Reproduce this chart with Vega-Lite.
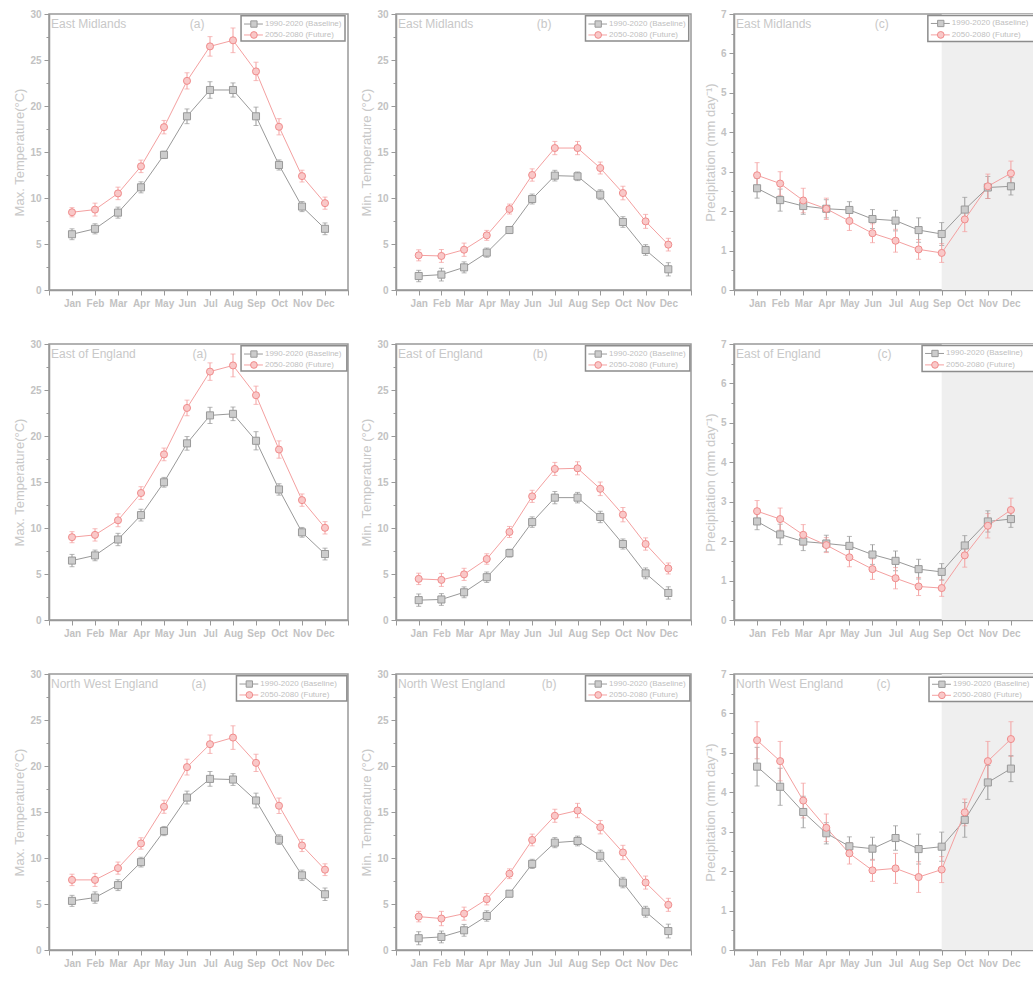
{
"$schema": "https://vega.github.io/schema/vega-lite/v6.json",
"padding": {"left": 13, "top": 8, "right": 0, "bottom": 0},
"datasets": {
"d": [
{"r":"EM","v":"max","p":"Baseline","m":1,"y":6.06,"e":0.59},{"r":"EM","v":"max","p":"Baseline","m":2,"y":6.65,"e":0.55},{"r":"EM","v":"max","p":"Baseline","m":3,"y":8.41,"e":0.6},{"r":"EM","v":"max","p":"Baseline","m":4,"y":11.16,"e":0.6},{"r":"EM","v":"max","p":"Baseline","m":5,"y":14.69,"e":0.4},{"r":"EM","v":"max","p":"Baseline","m":6,"y":18.88,"e":0.8},{"r":"EM","v":"max","p":"Baseline","m":7,"y":21.74,"e":0.9},{"r":"EM","v":"max","p":"Baseline","m":8,"y":21.74,"e":0.77},{"r":"EM","v":"max","p":"Baseline","m":9,"y":18.88,"e":1.0},{"r":"EM","v":"max","p":"Baseline","m":10,"y":13.59,"e":0.55},{"r":"EM","v":"max","p":"Baseline","m":11,"y":9.07,"e":0.55},{"r":"EM","v":"max","p":"Baseline","m":12,"y":6.65,"e":0.64},
{"r":"EM","v":"max","p":"Future","m":1,"y":8.45,"e":0.5},{"r":"EM","v":"max","p":"Future","m":2,"y":8.74,"e":0.7},{"r":"EM","v":"max","p":"Future","m":3,"y":10.5,"e":0.68},{"r":"EM","v":"max","p":"Future","m":4,"y":13.44,"e":0.68},{"r":"EM","v":"max","p":"Future","m":5,"y":17.7,"e":0.73},{"r":"EM","v":"max","p":"Future","m":6,"y":22.73,"e":0.88},{"r":"EM","v":"max","p":"Future","m":7,"y":26.48,"e":1.06},{"r":"EM","v":"max","p":"Future","m":8,"y":27.14,"e":1.34},{"r":"EM","v":"max","p":"Future","m":9,"y":23.76,"e":1.0},{"r":"EM","v":"max","p":"Future","m":10,"y":17.74,"e":0.88},{"r":"EM","v":"max","p":"Future","m":11,"y":12.38,"e":0.64},{"r":"EM","v":"max","p":"Future","m":12,"y":9.44,"e":0.66},
{"r":"EM","v":"min","p":"Baseline","m":1,"y":1.52,"e":0.62},{"r":"EM","v":"min","p":"Baseline","m":2,"y":1.67,"e":0.69},{"r":"EM","v":"min","p":"Baseline","m":3,"y":2.46,"e":0.6},{"r":"EM","v":"min","p":"Baseline","m":4,"y":4.06,"e":0.5},{"r":"EM","v":"min","p":"Baseline","m":5,"y":6.52,"e":0.36},{"r":"EM","v":"min","p":"Baseline","m":6,"y":9.89,"e":0.54},{"r":"EM","v":"min","p":"Baseline","m":7,"y":12.43,"e":0.58},{"r":"EM","v":"min","p":"Baseline","m":8,"y":12.36,"e":0.47},{"r":"EM","v":"min","p":"Baseline","m":9,"y":10.36,"e":0.53},{"r":"EM","v":"min","p":"Baseline","m":10,"y":7.39,"e":0.58},{"r":"EM","v":"min","p":"Baseline","m":11,"y":4.35,"e":0.58},{"r":"EM","v":"min","p":"Baseline","m":12,"y":2.25,"e":0.72},
{"r":"EM","v":"min","p":"Future","m":1,"y":3.77,"e":0.6},{"r":"EM","v":"min","p":"Future","m":2,"y":3.7,"e":0.7},{"r":"EM","v":"min","p":"Future","m":3,"y":4.38,"e":0.72},{"r":"EM","v":"min","p":"Future","m":4,"y":5.94,"e":0.54},{"r":"EM","v":"min","p":"Future","m":5,"y":8.8,"e":0.54},{"r":"EM","v":"min","p":"Future","m":6,"y":12.5,"e":0.67},{"r":"EM","v":"min","p":"Future","m":7,"y":15.43,"e":0.72},{"r":"EM","v":"min","p":"Future","m":8,"y":15.43,"e":0.72},{"r":"EM","v":"min","p":"Future","m":9,"y":13.26,"e":0.65},{"r":"EM","v":"min","p":"Future","m":10,"y":10.54,"e":0.74},{"r":"EM","v":"min","p":"Future","m":11,"y":7.46,"e":0.76},{"r":"EM","v":"min","p":"Future","m":12,"y":4.93,"e":0.69},
{"r":"EM","v":"pr","p":"Baseline","m":1,"y":2.58,"e":0.25},{"r":"EM","v":"pr","p":"Baseline","m":2,"y":2.28,"e":0.28},{"r":"EM","v":"pr","p":"Baseline","m":3,"y":2.13,"e":0.21},{"r":"EM","v":"pr","p":"Baseline","m":4,"y":2.06,"e":0.23},{"r":"EM","v":"pr","p":"Baseline","m":5,"y":2.03,"e":0.21},{"r":"EM","v":"pr","p":"Baseline","m":6,"y":1.8,"e":0.24},{"r":"EM","v":"pr","p":"Baseline","m":7,"y":1.76,"e":0.26},{"r":"EM","v":"pr","p":"Baseline","m":8,"y":1.52,"e":0.31},{"r":"EM","v":"pr","p":"Baseline","m":9,"y":1.42,"e":0.29},{"r":"EM","v":"pr","p":"Baseline","m":10,"y":2.04,"e":0.31},{"r":"EM","v":"pr","p":"Baseline","m":11,"y":2.6,"e":0.28},{"r":"EM","v":"pr","p":"Baseline","m":12,"y":2.63,"e":0.22},
{"r":"EM","v":"pr","p":"Future","m":1,"y":2.91,"e":0.32},{"r":"EM","v":"pr","p":"Future","m":2,"y":2.7,"e":0.3},{"r":"EM","v":"pr","p":"Future","m":3,"y":2.27,"e":0.31},{"r":"EM","v":"pr","p":"Future","m":4,"y":2.06,"e":0.27},{"r":"EM","v":"pr","p":"Future","m":5,"y":1.75,"e":0.24},{"r":"EM","v":"pr","p":"Future","m":6,"y":1.44,"e":0.24},{"r":"EM","v":"pr","p":"Future","m":7,"y":1.25,"e":0.29},{"r":"EM","v":"pr","p":"Future","m":8,"y":1.03,"e":0.25},{"r":"EM","v":"pr","p":"Future","m":9,"y":0.94,"e":0.24},{"r":"EM","v":"pr","p":"Future","m":10,"y":1.79,"e":0.31},{"r":"EM","v":"pr","p":"Future","m":11,"y":2.63,"e":0.31},{"r":"EM","v":"pr","p":"Future","m":12,"y":2.96,"e":0.31},
{"r":"EE","v":"max","p":"Baseline","m":1,"y":6.46,"e":0.67},{"r":"EE","v":"max","p":"Baseline","m":2,"y":7.02,"e":0.58},{"r":"EE","v":"max","p":"Baseline","m":3,"y":8.75,"e":0.67},{"r":"EE","v":"max","p":"Baseline","m":4,"y":11.4,"e":0.64},{"r":"EE","v":"max","p":"Baseline","m":5,"y":14.97,"e":0.53},{"r":"EE","v":"max","p":"Baseline","m":6,"y":19.2,"e":0.74},{"r":"EE","v":"max","p":"Baseline","m":7,"y":22.24,"e":0.88},{"r":"EE","v":"max","p":"Baseline","m":8,"y":22.41,"e":0.74},{"r":"EE","v":"max","p":"Baseline","m":9,"y":19.48,"e":0.99},{"r":"EE","v":"max","p":"Baseline","m":10,"y":14.19,"e":0.62},{"r":"EE","v":"max","p":"Baseline","m":11,"y":9.53,"e":0.53},{"r":"EE","v":"max","p":"Baseline","m":12,"y":7.17,"e":0.64},
{"r":"EE","v":"max","p":"Future","m":1,"y":9.0,"e":0.6},{"r":"EE","v":"max","p":"Future","m":2,"y":9.25,"e":0.67},{"r":"EE","v":"max","p":"Future","m":3,"y":10.84,"e":0.7},{"r":"EE","v":"max","p":"Future","m":4,"y":13.8,"e":0.69},{"r":"EE","v":"max","p":"Future","m":5,"y":18.0,"e":0.69},{"r":"EE","v":"max","p":"Future","m":6,"y":23.05,"e":0.85},{"r":"EE","v":"max","p":"Future","m":7,"y":27.0,"e":0.95},{"r":"EE","v":"max","p":"Future","m":8,"y":27.67,"e":1.24},{"r":"EE","v":"max","p":"Future","m":9,"y":24.43,"e":0.99},{"r":"EE","v":"max","p":"Future","m":10,"y":18.53,"e":0.94},{"r":"EE","v":"max","p":"Future","m":11,"y":13.03,"e":0.67},{"r":"EE","v":"max","p":"Future","m":12,"y":10.02,"e":0.67},
{"r":"EE","v":"min","p":"Baseline","m":1,"y":2.16,"e":0.67},{"r":"EE","v":"min","p":"Baseline","m":2,"y":2.23,"e":0.64},{"r":"EE","v":"min","p":"Baseline","m":3,"y":3.01,"e":0.59},{"r":"EE","v":"min","p":"Baseline","m":4,"y":4.65,"e":0.57},{"r":"EE","v":"min","p":"Baseline","m":5,"y":7.27,"e":0.43},{"r":"EE","v":"min","p":"Baseline","m":6,"y":10.64,"e":0.57},{"r":"EE","v":"min","p":"Baseline","m":7,"y":13.3,"e":0.67},{"r":"EE","v":"min","p":"Baseline","m":8,"y":13.3,"e":0.57},{"r":"EE","v":"min","p":"Baseline","m":9,"y":11.2,"e":0.62},{"r":"EE","v":"min","p":"Baseline","m":10,"y":8.26,"e":0.55},{"r":"EE","v":"min","p":"Baseline","m":11,"y":5.07,"e":0.59},{"r":"EE","v":"min","p":"Baseline","m":12,"y":2.94,"e":0.67},
{"r":"EE","v":"min","p":"Future","m":1,"y":4.47,"e":0.62},{"r":"EE","v":"min","p":"Future","m":2,"y":4.36,"e":0.71},{"r":"EE","v":"min","p":"Future","m":3,"y":4.96,"e":0.66},{"r":"EE","v":"min","p":"Future","m":4,"y":6.63,"e":0.57},{"r":"EE","v":"min","p":"Future","m":5,"y":9.57,"e":0.6},{"r":"EE","v":"min","p":"Future","m":6,"y":13.44,"e":0.66},{"r":"EE","v":"min","p":"Future","m":7,"y":16.42,"e":0.71},{"r":"EE","v":"min","p":"Future","m":8,"y":16.49,"e":0.71},{"r":"EE","v":"min","p":"Future","m":9,"y":14.26,"e":0.74},{"r":"EE","v":"min","p":"Future","m":10,"y":11.45,"e":0.78},{"r":"EE","v":"min","p":"Future","m":11,"y":8.26,"e":0.67},{"r":"EE","v":"min","p":"Future","m":12,"y":5.6,"e":0.6},
{"r":"EE","v":"pr","p":"Baseline","m":1,"y":2.5,"e":0.21},{"r":"EE","v":"pr","p":"Baseline","m":2,"y":2.17,"e":0.26},{"r":"EE","v":"pr","p":"Baseline","m":3,"y":1.99,"e":0.23},{"r":"EE","v":"pr","p":"Baseline","m":4,"y":1.94,"e":0.21},{"r":"EE","v":"pr","p":"Baseline","m":5,"y":1.88,"e":0.24},{"r":"EE","v":"pr","p":"Baseline","m":6,"y":1.66,"e":0.25},{"r":"EE","v":"pr","p":"Baseline","m":7,"y":1.5,"e":0.25},{"r":"EE","v":"pr","p":"Baseline","m":8,"y":1.29,"e":0.25},{"r":"EE","v":"pr","p":"Baseline","m":9,"y":1.22,"e":0.21},{"r":"EE","v":"pr","p":"Baseline","m":10,"y":1.89,"e":0.25},{"r":"EE","v":"pr","p":"Baseline","m":11,"y":2.5,"e":0.27},{"r":"EE","v":"pr","p":"Baseline","m":12,"y":2.56,"e":0.21},
{"r":"EE","v":"pr","p":"Future","m":1,"y":2.76,"e":0.27},{"r":"EE","v":"pr","p":"Future","m":2,"y":2.56,"e":0.28},{"r":"EE","v":"pr","p":"Future","m":3,"y":2.16,"e":0.26},{"r":"EE","v":"pr","p":"Future","m":4,"y":1.9,"e":0.19},{"r":"EE","v":"pr","p":"Future","m":5,"y":1.59,"e":0.24},{"r":"EE","v":"pr","p":"Future","m":6,"y":1.29,"e":0.26},{"r":"EE","v":"pr","p":"Future","m":7,"y":1.06,"e":0.27},{"r":"EE","v":"pr","p":"Future","m":8,"y":0.85,"e":0.23},{"r":"EE","v":"pr","p":"Future","m":9,"y":0.81,"e":0.21},{"r":"EE","v":"pr","p":"Future","m":10,"y":1.64,"e":0.3},{"r":"EE","v":"pr","p":"Future","m":11,"y":2.39,"e":0.31},{"r":"EE","v":"pr","p":"Future","m":12,"y":2.79,"e":0.3},
{"r":"NW","v":"max","p":"Baseline","m":1,"y":5.34,"e":0.6},{"r":"NW","v":"max","p":"Baseline","m":2,"y":5.7,"e":0.62},{"r":"NW","v":"max","p":"Baseline","m":3,"y":7.05,"e":0.59},{"r":"NW","v":"max","p":"Baseline","m":4,"y":9.55,"e":0.53},{"r":"NW","v":"max","p":"Baseline","m":5,"y":12.93,"e":0.5},{"r":"NW","v":"max","p":"Baseline","m":6,"y":16.57,"e":0.7},{"r":"NW","v":"max","p":"Baseline","m":7,"y":18.6,"e":0.8},{"r":"NW","v":"max","p":"Baseline","m":8,"y":18.53,"e":0.64},{"r":"NW","v":"max","p":"Baseline","m":9,"y":16.25,"e":0.8},{"r":"NW","v":"max","p":"Baseline","m":10,"y":12.0,"e":0.53},{"r":"NW","v":"max","p":"Baseline","m":11,"y":8.12,"e":0.57},{"r":"NW","v":"max","p":"Baseline","m":12,"y":6.06,"e":0.68},
{"r":"NW","v":"max","p":"Future","m":1,"y":7.62,"e":0.62},{"r":"NW","v":"max","p":"Future","m":2,"y":7.62,"e":0.71},{"r":"NW","v":"max","p":"Future","m":3,"y":8.9,"e":0.66},{"r":"NW","v":"max","p":"Future","m":4,"y":11.58,"e":0.62},{"r":"NW","v":"max","p":"Future","m":5,"y":15.57,"e":0.71},{"r":"NW","v":"max","p":"Future","m":6,"y":19.88,"e":0.86},{"r":"NW","v":"max","p":"Future","m":7,"y":22.37,"e":1.0},{"r":"NW","v":"max","p":"Future","m":8,"y":23.09,"e":1.28},{"r":"NW","v":"max","p":"Future","m":9,"y":20.34,"e":0.94},{"r":"NW","v":"max","p":"Future","m":10,"y":15.68,"e":0.84},{"r":"NW","v":"max","p":"Future","m":11,"y":11.36,"e":0.66},{"r":"NW","v":"max","p":"Future","m":12,"y":8.73,"e":0.64},
{"r":"NW","v":"min","p":"Baseline","m":1,"y":1.28,"e":0.71},{"r":"NW","v":"min","p":"Baseline","m":2,"y":1.42,"e":0.64},{"r":"NW","v":"min","p":"Baseline","m":3,"y":2.14,"e":0.64},{"r":"NW","v":"min","p":"Baseline","m":4,"y":3.7,"e":0.57},{"r":"NW","v":"min","p":"Baseline","m":5,"y":6.12,"e":0.34},{"r":"NW","v":"min","p":"Baseline","m":6,"y":9.36,"e":0.5},{"r":"NW","v":"min","p":"Baseline","m":7,"y":11.67,"e":0.55},{"r":"NW","v":"min","p":"Baseline","m":8,"y":11.85,"e":0.53},{"r":"NW","v":"min","p":"Baseline","m":9,"y":10.25,"e":0.6},{"r":"NW","v":"min","p":"Baseline","m":10,"y":7.33,"e":0.57},{"r":"NW","v":"min","p":"Baseline","m":11,"y":4.16,"e":0.59},{"r":"NW","v":"min","p":"Baseline","m":12,"y":2.06,"e":0.75},
{"r":"NW","v":"min","p":"Future","m":1,"y":3.63,"e":0.57},{"r":"NW","v":"min","p":"Future","m":2,"y":3.42,"e":0.78},{"r":"NW","v":"min","p":"Future","m":3,"y":3.95,"e":0.71},{"r":"NW","v":"min","p":"Future","m":4,"y":5.52,"e":0.62},{"r":"NW","v":"min","p":"Future","m":5,"y":8.29,"e":0.53},{"r":"NW","v":"min","p":"Future","m":6,"y":11.96,"e":0.64},{"r":"NW","v":"min","p":"Future","m":7,"y":14.59,"e":0.71},{"r":"NW","v":"min","p":"Future","m":8,"y":15.16,"e":0.78},{"r":"NW","v":"min","p":"Future","m":9,"y":13.35,"e":0.73},{"r":"NW","v":"min","p":"Future","m":10,"y":10.6,"e":0.78},{"r":"NW","v":"min","p":"Future","m":11,"y":7.33,"e":0.71},{"r":"NW","v":"min","p":"Future","m":12,"y":4.91,"e":0.71},
{"r":"NW","v":"pr","p":"Baseline","m":1,"y":4.65,"e":0.49},{"r":"NW","v":"pr","p":"Baseline","m":2,"y":4.14,"e":0.47},{"r":"NW","v":"pr","p":"Baseline","m":3,"y":3.5,"e":0.4},{"r":"NW","v":"pr","p":"Baseline","m":4,"y":2.96,"e":0.27},{"r":"NW","v":"pr","p":"Baseline","m":5,"y":2.63,"e":0.24},{"r":"NW","v":"pr","p":"Baseline","m":6,"y":2.57,"e":0.29},{"r":"NW","v":"pr","p":"Baseline","m":7,"y":2.84,"e":0.31},{"r":"NW","v":"pr","p":"Baseline","m":8,"y":2.56,"e":0.38},{"r":"NW","v":"pr","p":"Baseline","m":9,"y":2.62,"e":0.37},{"r":"NW","v":"pr","p":"Baseline","m":10,"y":3.3,"e":0.44},{"r":"NW","v":"pr","p":"Baseline","m":11,"y":4.25,"e":0.43},{"r":"NW","v":"pr","p":"Baseline","m":12,"y":4.6,"e":0.33},
{"r":"NW","v":"pr","p":"Future","m":1,"y":5.32,"e":0.47},{"r":"NW","v":"pr","p":"Future","m":2,"y":4.79,"e":0.5},{"r":"NW","v":"pr","p":"Future","m":3,"y":3.79,"e":0.44},{"r":"NW","v":"pr","p":"Future","m":4,"y":3.1,"e":0.35},{"r":"NW","v":"pr","p":"Future","m":5,"y":2.45,"e":0.27},{"r":"NW","v":"pr","p":"Future","m":6,"y":2.02,"e":0.28},{"r":"NW","v":"pr","p":"Future","m":7,"y":2.07,"e":0.38},{"r":"NW","v":"pr","p":"Future","m":8,"y":1.85,"e":0.39},{"r":"NW","v":"pr","p":"Future","m":9,"y":2.04,"e":0.33},{"r":"NW","v":"pr","p":"Future","m":10,"y":3.49,"e":0.34},{"r":"NW","v":"pr","p":"Future","m":11,"y":4.79,"e":0.5},{"r":"NW","v":"pr","p":"Future","m":12,"y":5.35,"e":0.44}
]},
"columns": 3,
"spacing": {"row": 29, "column": 10},
"resolve": {"scale": {"color": "independent", "shape": "independent", "fill": "independent", "stroke": "independent"}},
"concat": [
{"width": 299, "height": 276, "title": "East Midlands\u00a0\u00a0\u00a0\u00a0\u00a0\u00a0\u00a0\u00a0\u00a0\u00a0\u00a0\u00a0\u00a0\u00a0\u00a0\u00a0\u00a0\u00a0\u00a0(a)",
 "encoding": {"x": {"field": "m", "type": "quantitative", "scale": {"domain": [0, 13], "nice": false, "zero": false}, "axis": {"title": null, "values": [0,1,2,3,4,5,6,7,8,9,10,11,12,13], "labelExpr": "datum.value>=1 && datum.value<=12 ? ['Jan','Feb','Mar','Apr','May','Jun','Jul','Aug','Sep','Oct','Nov','Dec'][datum.value-1] : ''"}},
   "y": {"field": "y", "type": "quantitative", "scale": {"domain": [0, 30], "nice": false}, "axis": {"title": "Max. Temperature(°C)", "values": [0,2.5,5,7.5,10,12.5,15,17.5,20,22.5,25,27.5,30], "labelExpr": "datum.value % 5 == 0 ? datum.label : ''", "tickSize": {"condition": {"test": "datum.value % 5 == 0", "value": 5}, "value": 3}}}},
 "layer": [
  {"data": {"name": "d"}, "transform": [{"filter": "datum.r=='EM' && datum.v=='max'"}], "mark": {"type": "errorbar", "ticks": {"size": 5}}, "encoding": {"yError": {"field": "e"}, "color": {"field": "p", "type": "nominal", "scale": {"domain": ["Baseline", "Future"], "range": ["#999999", "#f4a0a0"]}, "legend": null}}},
  {"data": {"name": "d"}, "transform": [{"filter": "datum.r=='EM' && datum.v=='max'"}], "mark": {"type": "line", "strokeWidth": 1}, "encoding": {"color": {"field": "p", "type": "nominal", "scale": {"domain": ["Baseline", "Future"], "range": ["#999999", "#f4a0a0"]}, "legend": null}}},
  {"data": {"name": "d"}, "transform": [{"filter": "datum.r=='EM' && datum.v=='max'"}], "mark": {"type": "point", "opacity": 1, "size": 50, "strokeWidth": 1}, "encoding": {"shape": {"field": "p", "type": "nominal", "scale": {"domain": ["Baseline", "Future"], "range": ["square", "circle"]}, "legend": null}, "stroke": {"field": "p", "type": "nominal", "scale": {"domain": ["Baseline", "Future"], "range": ["#999999", "#f08c8c"]}, "legend": null}, "fill": {"field": "p", "type": "nominal", "scale": {"domain": ["Baseline", "Future"], "range": ["#cccccc", "#f9c8c8"]}, "legend": null}}},
  {"data": {"name": "d"}, "transform": [{"filter": "datum.r=='EM' && datum.v=='max' && datum.m==1 && datum.p=='Baseline'"}], "mark": {"type": "rect", "fill": "#ffffff", "stroke": "#8c8c8c", "strokeWidth": 1.5}, "encoding": {"x": {"datum": 8.35, "type": "quantitative"}, "x2": {"datum": 12.87}, "y": {"datum": 27.07, "type": "quantitative"}, "y2": {"datum": 29.8}}},
  {"data": {"name": "d"}, "transform": [{"filter": "datum.r=='EM' && datum.v=='max' && datum.m==1 && datum.p=='Baseline'"}], "encoding": {"y": {"datum": 28.91, "type": "quantitative"}}, "layer": [
    {"mark": {"type": "rule", "color": "#999999", "strokeWidth": 1}, "encoding": {"x": {"datum": 8.48, "type": "quantitative"}, "x2": {"datum": 9.3}}},
    {"mark": {"type": "point", "shape": "square", "filled": true, "fill": "#cccccc", "stroke": "#999999", "strokeWidth": 1, "size": 40, "opacity": 1}, "encoding": {"x": {"datum": 8.91, "type": "quantitative"}}},
    {"mark": {"type": "text", "text": "1990-2020 (Baseline)", "align": "left", "baseline": "middle", "fontSize": 8, "color": "#c0c0c0"}, "encoding": {"x": {"datum": 9.39, "type": "quantitative"}}}]},
  {"data": {"name": "d"}, "transform": [{"filter": "datum.r=='EM' && datum.v=='max' && datum.m==1 && datum.p=='Future'"}], "encoding": {"y": {"datum": 27.72, "type": "quantitative"}}, "layer": [
    {"mark": {"type": "rule", "color": "#f4a0a0", "strokeWidth": 1}, "encoding": {"x": {"datum": 8.48, "type": "quantitative"}, "x2": {"datum": 9.3}}},
    {"mark": {"type": "point", "shape": "circle", "filled": true, "fill": "#f9c8c8", "stroke": "#f08c8c", "strokeWidth": 1, "size": 45, "opacity": 1}, "encoding": {"x": {"datum": 8.91, "type": "quantitative"}}},
    {"mark": {"type": "text", "text": "2050-2080 (Future)", "align": "left", "baseline": "middle", "fontSize": 8, "color": "#c0c0c0"}, "encoding": {"x": {"datum": 9.39, "type": "quantitative"}}}]}
 ]},
{"width": 295, "height": 276, "title": "East Midlands\u00a0\u00a0\u00a0\u00a0\u00a0\u00a0\u00a0\u00a0\u00a0\u00a0\u00a0\u00a0\u00a0\u00a0\u00a0\u00a0\u00a0\u00a0\u00a0(b)",
 "encoding": {"x": {"field": "m", "type": "quantitative", "scale": {"domain": [0, 13], "nice": false, "zero": false}, "axis": {"title": null, "values": [0,1,2,3,4,5,6,7,8,9,10,11,12,13], "labelExpr": "datum.value>=1 && datum.value<=12 ? ['Jan','Feb','Mar','Apr','May','Jun','Jul','Aug','Sep','Oct','Nov','Dec'][datum.value-1] : ''"}},
   "y": {"field": "y", "type": "quantitative", "scale": {"domain": [0, 30], "nice": false}, "axis": {"title": "Min. Temperature (°C)", "values": [0,2.5,5,7.5,10,12.5,15,17.5,20,22.5,25,27.5,30], "labelExpr": "datum.value % 5 == 0 ? datum.label : ''", "tickSize": {"condition": {"test": "datum.value % 5 == 0", "value": 5}, "value": 3}}}},
 "layer": [
  {"data": {"name": "d"}, "transform": [{"filter": "datum.r=='EM' && datum.v=='min'"}], "mark": {"type": "errorbar", "ticks": {"size": 5}}, "encoding": {"yError": {"field": "e"}, "color": {"field": "p", "type": "nominal", "scale": {"domain": ["Baseline", "Future"], "range": ["#999999", "#f4a0a0"]}, "legend": null}}},
  {"data": {"name": "d"}, "transform": [{"filter": "datum.r=='EM' && datum.v=='min'"}], "mark": {"type": "line", "strokeWidth": 1}, "encoding": {"color": {"field": "p", "type": "nominal", "scale": {"domain": ["Baseline", "Future"], "range": ["#999999", "#f4a0a0"]}, "legend": null}}},
  {"data": {"name": "d"}, "transform": [{"filter": "datum.r=='EM' && datum.v=='min'"}], "mark": {"type": "point", "opacity": 1, "size": 50, "strokeWidth": 1}, "encoding": {"shape": {"field": "p", "type": "nominal", "scale": {"domain": ["Baseline", "Future"], "range": ["square", "circle"]}, "legend": null}, "stroke": {"field": "p", "type": "nominal", "scale": {"domain": ["Baseline", "Future"], "range": ["#999999", "#f08c8c"]}, "legend": null}, "fill": {"field": "p", "type": "nominal", "scale": {"domain": ["Baseline", "Future"], "range": ["#cccccc", "#f9c8c8"]}, "legend": null}}},
  {"data": {"name": "d"}, "transform": [{"filter": "datum.r=='EM' && datum.v=='min' && datum.m==1 && datum.p=='Baseline'"}], "mark": {"type": "rect", "fill": "#ffffff", "stroke": "#8c8c8c", "strokeWidth": 1.5}, "encoding": {"x": {"datum": 8.35, "type": "quantitative"}, "x2": {"datum": 12.9}, "y": {"datum": 27.07, "type": "quantitative"}, "y2": {"datum": 29.8}}},
  {"data": {"name": "d"}, "transform": [{"filter": "datum.r=='EM' && datum.v=='min' && datum.m==1 && datum.p=='Baseline'"}], "encoding": {"y": {"datum": 28.91, "type": "quantitative"}}, "layer": [
    {"mark": {"type": "rule", "color": "#999999", "strokeWidth": 1}, "encoding": {"x": {"datum": 8.48, "type": "quantitative"}, "x2": {"datum": 9.3}}},
    {"mark": {"type": "point", "shape": "square", "filled": true, "fill": "#cccccc", "stroke": "#999999", "strokeWidth": 1, "size": 40, "opacity": 1}, "encoding": {"x": {"datum": 8.91, "type": "quantitative"}}},
    {"mark": {"type": "text", "text": "1990-2020 (Baseline)", "align": "left", "baseline": "middle", "fontSize": 8, "color": "#c0c0c0"}, "encoding": {"x": {"datum": 9.39, "type": "quantitative"}}}]},
  {"data": {"name": "d"}, "transform": [{"filter": "datum.r=='EM' && datum.v=='min' && datum.m==1 && datum.p=='Future'"}], "encoding": {"y": {"datum": 27.72, "type": "quantitative"}}, "layer": [
    {"mark": {"type": "rule", "color": "#f4a0a0", "strokeWidth": 1}, "encoding": {"x": {"datum": 8.48, "type": "quantitative"}, "x2": {"datum": 9.3}}},
    {"mark": {"type": "point", "shape": "circle", "filled": true, "fill": "#f9c8c8", "stroke": "#f08c8c", "strokeWidth": 1, "size": 45, "opacity": 1}, "encoding": {"x": {"datum": 8.91, "type": "quantitative"}}},
    {"mark": {"type": "text", "text": "2050-2080 (Future)", "align": "left", "baseline": "middle", "fontSize": 8, "color": "#c0c0c0"}, "encoding": {"x": {"datum": 9.39, "type": "quantitative"}}}]}
 ]},
{"width": 300, "height": 276, "title": "East Midlands\u00a0\u00a0\u00a0\u00a0\u00a0\u00a0\u00a0\u00a0\u00a0\u00a0\u00a0\u00a0\u00a0\u00a0\u00a0\u00a0\u00a0\u00a0\u00a0(c)",
 "encoding": {"x": {"field": "m", "type": "quantitative", "scale": {"domain": [0, 13], "nice": false, "zero": false}, "axis": {"title": null, "values": [0,1,2,3,4,5,6,7,8,9,10,11,12,13], "labelExpr": "datum.value>=1 && datum.value<=12 ? ['Jan','Feb','Mar','Apr','May','Jun','Jul','Aug','Sep','Oct','Nov','Dec'][datum.value-1] : ''"}},
   "y": {"field": "y", "type": "quantitative", "scale": {"domain": [0, 7], "nice": false}, "axis": {"title": "Precipitation (mm day⁻¹)", "values": [0,0.5,1,1.5,2,2.5,3,3.5,4,4.5,5,5.5,6,6.5,7], "labelExpr": "datum.value % 1 == 0 ? format(datum.value, 'd') : ''", "tickSize": {"condition": {"test": "datum.value % 1 == 0", "value": 5}, "value": 3}}}},
 "layer": [
  {"data": {"name": "d"}, "transform": [{"filter": "datum.r=='EM' && datum.v=='pr' && datum.m==9 && datum.p=='Baseline'"}], "mark": {"type": "rect", "color": "#efefef"}, "encoding": {"x": {"datum": 9, "type": "quantitative"}, "x2": {"datum": 13}, "y": {"datum": 0, "type": "quantitative"}, "y2": {"datum": 7}}},
  {"data": {"name": "d"}, "transform": [{"filter": "datum.r=='EM' && datum.v=='pr'"}], "mark": {"type": "errorbar", "ticks": {"size": 5}}, "encoding": {"yError": {"field": "e"}, "color": {"field": "p", "type": "nominal", "scale": {"domain": ["Baseline", "Future"], "range": ["#999999", "#f4a0a0"]}, "legend": null}}},
  {"data": {"name": "d"}, "transform": [{"filter": "datum.r=='EM' && datum.v=='pr'"}], "mark": {"type": "line", "strokeWidth": 1}, "encoding": {"color": {"field": "p", "type": "nominal", "scale": {"domain": ["Baseline", "Future"], "range": ["#999999", "#f4a0a0"]}, "legend": null}}},
  {"data": {"name": "d"}, "transform": [{"filter": "datum.r=='EM' && datum.v=='pr'"}], "mark": {"type": "point", "opacity": 1, "size": 50, "strokeWidth": 1}, "encoding": {"shape": {"field": "p", "type": "nominal", "scale": {"domain": ["Baseline", "Future"], "range": ["square", "circle"]}, "legend": null}, "stroke": {"field": "p", "type": "nominal", "scale": {"domain": ["Baseline", "Future"], "range": ["#999999", "#f08c8c"]}, "legend": null}, "fill": {"field": "p", "type": "nominal", "scale": {"domain": ["Baseline", "Future"], "range": ["#cccccc", "#f9c8c8"]}, "legend": null}}},
  {"data": {"name": "d"}, "transform": [{"filter": "datum.r=='EM' && datum.v=='pr' && datum.m==1 && datum.p=='Baseline'"}], "mark": {"type": "rect", "fill": "#ffffff", "stroke": "#8c8c8c", "strokeWidth": 1.5}, "encoding": {"x": {"datum": 8.4, "type": "quantitative"}, "x2": {"datum": 13}, "y": {"datum": 6.3, "type": "quantitative"}, "y2": {"datum": 6.96}}},
  {"data": {"name": "d"}, "transform": [{"filter": "datum.r=='EM' && datum.v=='pr' && datum.m==1 && datum.p=='Baseline'"}], "encoding": {"y": {"datum": 6.76, "type": "quantitative"}}, "layer": [
    {"mark": {"type": "rule", "color": "#999999", "strokeWidth": 1}, "encoding": {"x": {"datum": 8.53, "type": "quantitative"}, "x2": {"datum": 9.35}}},
    {"mark": {"type": "point", "shape": "square", "filled": true, "fill": "#cccccc", "stroke": "#999999", "strokeWidth": 1, "size": 40, "opacity": 1}, "encoding": {"x": {"datum": 8.96, "type": "quantitative"}}},
    {"mark": {"type": "text", "text": "1990-2020 (Baseline)", "align": "left", "baseline": "middle", "fontSize": 8, "color": "#c0c0c0"}, "encoding": {"x": {"datum": 9.44, "type": "quantitative"}}}]},
  {"data": {"name": "d"}, "transform": [{"filter": "datum.r=='EM' && datum.v=='pr' && datum.m==1 && datum.p=='Future'"}], "encoding": {"y": {"datum": 6.47, "type": "quantitative"}}, "layer": [
    {"mark": {"type": "rule", "color": "#f4a0a0", "strokeWidth": 1}, "encoding": {"x": {"datum": 8.53, "type": "quantitative"}, "x2": {"datum": 9.35}}},
    {"mark": {"type": "point", "shape": "circle", "filled": true, "fill": "#f9c8c8", "stroke": "#f08c8c", "strokeWidth": 1, "size": 45, "opacity": 1}, "encoding": {"x": {"datum": 8.96, "type": "quantitative"}}},
    {"mark": {"type": "text", "text": "2050-2080 (Future)", "align": "left", "baseline": "middle", "fontSize": 8, "color": "#c0c0c0"}, "encoding": {"x": {"datum": 9.44, "type": "quantitative"}}}]}
 ]},
{"width": 299, "height": 276, "title": "East of England\u00a0\u00a0\u00a0\u00a0\u00a0\u00a0\u00a0\u00a0\u00a0\u00a0\u00a0\u00a0\u00a0\u00a0\u00a0\u00a0\u00a0(a)",
 "encoding": {"x": {"field": "m", "type": "quantitative", "scale": {"domain": [0, 13], "nice": false, "zero": false}, "axis": {"title": null, "values": [0,1,2,3,4,5,6,7,8,9,10,11,12,13], "labelExpr": "datum.value>=1 && datum.value<=12 ? ['Jan','Feb','Mar','Apr','May','Jun','Jul','Aug','Sep','Oct','Nov','Dec'][datum.value-1] : ''"}},
   "y": {"field": "y", "type": "quantitative", "scale": {"domain": [0, 30], "nice": false}, "axis": {"title": "Max. Temperature(°C)", "values": [0,2.5,5,7.5,10,12.5,15,17.5,20,22.5,25,27.5,30], "labelExpr": "datum.value % 5 == 0 ? datum.label : ''", "tickSize": {"condition": {"test": "datum.value % 5 == 0", "value": 5}, "value": 3}}}},
 "layer": [
  {"data": {"name": "d"}, "transform": [{"filter": "datum.r=='EE' && datum.v=='max'"}], "mark": {"type": "errorbar", "ticks": {"size": 5}}, "encoding": {"yError": {"field": "e"}, "color": {"field": "p", "type": "nominal", "scale": {"domain": ["Baseline", "Future"], "range": ["#999999", "#f4a0a0"]}, "legend": null}}},
  {"data": {"name": "d"}, "transform": [{"filter": "datum.r=='EE' && datum.v=='max'"}], "mark": {"type": "line", "strokeWidth": 1}, "encoding": {"color": {"field": "p", "type": "nominal", "scale": {"domain": ["Baseline", "Future"], "range": ["#999999", "#f4a0a0"]}, "legend": null}}},
  {"data": {"name": "d"}, "transform": [{"filter": "datum.r=='EE' && datum.v=='max'"}], "mark": {"type": "point", "opacity": 1, "size": 50, "strokeWidth": 1}, "encoding": {"shape": {"field": "p", "type": "nominal", "scale": {"domain": ["Baseline", "Future"], "range": ["square", "circle"]}, "legend": null}, "stroke": {"field": "p", "type": "nominal", "scale": {"domain": ["Baseline", "Future"], "range": ["#999999", "#f08c8c"]}, "legend": null}, "fill": {"field": "p", "type": "nominal", "scale": {"domain": ["Baseline", "Future"], "range": ["#cccccc", "#f9c8c8"]}, "legend": null}}},
  {"data": {"name": "d"}, "transform": [{"filter": "datum.r=='EE' && datum.v=='max' && datum.m==1 && datum.p=='Baseline'"}], "mark": {"type": "rect", "fill": "#ffffff", "stroke": "#8c8c8c", "strokeWidth": 1.5}, "encoding": {"x": {"datum": 8.35, "type": "quantitative"}, "x2": {"datum": 12.95}, "y": {"datum": 27.07, "type": "quantitative"}, "y2": {"datum": 29.8}}},
  {"data": {"name": "d"}, "transform": [{"filter": "datum.r=='EE' && datum.v=='max' && datum.m==1 && datum.p=='Baseline'"}], "encoding": {"y": {"datum": 28.91, "type": "quantitative"}}, "layer": [
    {"mark": {"type": "rule", "color": "#999999", "strokeWidth": 1}, "encoding": {"x": {"datum": 8.48, "type": "quantitative"}, "x2": {"datum": 9.3}}},
    {"mark": {"type": "point", "shape": "square", "filled": true, "fill": "#cccccc", "stroke": "#999999", "strokeWidth": 1, "size": 40, "opacity": 1}, "encoding": {"x": {"datum": 8.91, "type": "quantitative"}}},
    {"mark": {"type": "text", "text": "1990-2020 (Baseline)", "align": "left", "baseline": "middle", "fontSize": 8, "color": "#c0c0c0"}, "encoding": {"x": {"datum": 9.39, "type": "quantitative"}}}]},
  {"data": {"name": "d"}, "transform": [{"filter": "datum.r=='EE' && datum.v=='max' && datum.m==1 && datum.p=='Future'"}], "encoding": {"y": {"datum": 27.72, "type": "quantitative"}}, "layer": [
    {"mark": {"type": "rule", "color": "#f4a0a0", "strokeWidth": 1}, "encoding": {"x": {"datum": 8.48, "type": "quantitative"}, "x2": {"datum": 9.3}}},
    {"mark": {"type": "point", "shape": "circle", "filled": true, "fill": "#f9c8c8", "stroke": "#f08c8c", "strokeWidth": 1, "size": 45, "opacity": 1}, "encoding": {"x": {"datum": 8.91, "type": "quantitative"}}},
    {"mark": {"type": "text", "text": "2050-2080 (Future)", "align": "left", "baseline": "middle", "fontSize": 8, "color": "#c0c0c0"}, "encoding": {"x": {"datum": 9.39, "type": "quantitative"}}}]}
 ]},
{"width": 295, "height": 276, "title": "East of England\u00a0\u00a0\u00a0\u00a0\u00a0\u00a0\u00a0\u00a0\u00a0\u00a0\u00a0\u00a0\u00a0\u00a0\u00a0(b)",
 "encoding": {"x": {"field": "m", "type": "quantitative", "scale": {"domain": [0, 13], "nice": false, "zero": false}, "axis": {"title": null, "values": [0,1,2,3,4,5,6,7,8,9,10,11,12,13], "labelExpr": "datum.value>=1 && datum.value<=12 ? ['Jan','Feb','Mar','Apr','May','Jun','Jul','Aug','Sep','Oct','Nov','Dec'][datum.value-1] : ''"}},
   "y": {"field": "y", "type": "quantitative", "scale": {"domain": [0, 30], "nice": false}, "axis": {"title": "Min. Temperature (°C)", "values": [0,2.5,5,7.5,10,12.5,15,17.5,20,22.5,25,27.5,30], "labelExpr": "datum.value % 5 == 0 ? datum.label : ''", "tickSize": {"condition": {"test": "datum.value % 5 == 0", "value": 5}, "value": 3}}}},
 "layer": [
  {"data": {"name": "d"}, "transform": [{"filter": "datum.r=='EE' && datum.v=='min'"}], "mark": {"type": "errorbar", "ticks": {"size": 5}}, "encoding": {"yError": {"field": "e"}, "color": {"field": "p", "type": "nominal", "scale": {"domain": ["Baseline", "Future"], "range": ["#999999", "#f4a0a0"]}, "legend": null}}},
  {"data": {"name": "d"}, "transform": [{"filter": "datum.r=='EE' && datum.v=='min'"}], "mark": {"type": "line", "strokeWidth": 1}, "encoding": {"color": {"field": "p", "type": "nominal", "scale": {"domain": ["Baseline", "Future"], "range": ["#999999", "#f4a0a0"]}, "legend": null}}},
  {"data": {"name": "d"}, "transform": [{"filter": "datum.r=='EE' && datum.v=='min'"}], "mark": {"type": "point", "opacity": 1, "size": 50, "strokeWidth": 1}, "encoding": {"shape": {"field": "p", "type": "nominal", "scale": {"domain": ["Baseline", "Future"], "range": ["square", "circle"]}, "legend": null}, "stroke": {"field": "p", "type": "nominal", "scale": {"domain": ["Baseline", "Future"], "range": ["#999999", "#f08c8c"]}, "legend": null}, "fill": {"field": "p", "type": "nominal", "scale": {"domain": ["Baseline", "Future"], "range": ["#cccccc", "#f9c8c8"]}, "legend": null}}},
  {"data": {"name": "d"}, "transform": [{"filter": "datum.r=='EE' && datum.v=='min' && datum.m==1 && datum.p=='Baseline'"}], "mark": {"type": "rect", "fill": "#ffffff", "stroke": "#8c8c8c", "strokeWidth": 1.5}, "encoding": {"x": {"datum": 8.35, "type": "quantitative"}, "x2": {"datum": 12.95}, "y": {"datum": 27.07, "type": "quantitative"}, "y2": {"datum": 29.8}}},
  {"data": {"name": "d"}, "transform": [{"filter": "datum.r=='EE' && datum.v=='min' && datum.m==1 && datum.p=='Baseline'"}], "encoding": {"y": {"datum": 28.91, "type": "quantitative"}}, "layer": [
    {"mark": {"type": "rule", "color": "#999999", "strokeWidth": 1}, "encoding": {"x": {"datum": 8.48, "type": "quantitative"}, "x2": {"datum": 9.3}}},
    {"mark": {"type": "point", "shape": "square", "filled": true, "fill": "#cccccc", "stroke": "#999999", "strokeWidth": 1, "size": 40, "opacity": 1}, "encoding": {"x": {"datum": 8.91, "type": "quantitative"}}},
    {"mark": {"type": "text", "text": "1990-2020 (Baseline)", "align": "left", "baseline": "middle", "fontSize": 8, "color": "#c0c0c0"}, "encoding": {"x": {"datum": 9.39, "type": "quantitative"}}}]},
  {"data": {"name": "d"}, "transform": [{"filter": "datum.r=='EE' && datum.v=='min' && datum.m==1 && datum.p=='Future'"}], "encoding": {"y": {"datum": 27.72, "type": "quantitative"}}, "layer": [
    {"mark": {"type": "rule", "color": "#f4a0a0", "strokeWidth": 1}, "encoding": {"x": {"datum": 8.48, "type": "quantitative"}, "x2": {"datum": 9.3}}},
    {"mark": {"type": "point", "shape": "circle", "filled": true, "fill": "#f9c8c8", "stroke": "#f08c8c", "strokeWidth": 1, "size": 45, "opacity": 1}, "encoding": {"x": {"datum": 8.91, "type": "quantitative"}}},
    {"mark": {"type": "text", "text": "2050-2080 (Future)", "align": "left", "baseline": "middle", "fontSize": 8, "color": "#c0c0c0"}, "encoding": {"x": {"datum": 9.39, "type": "quantitative"}}}]}
 ]},
{"width": 300, "height": 276, "title": "East of England\u00a0\u00a0\u00a0\u00a0\u00a0\u00a0\u00a0\u00a0\u00a0\u00a0\u00a0\u00a0\u00a0\u00a0\u00a0\u00a0\u00a0(c)",
 "encoding": {"x": {"field": "m", "type": "quantitative", "scale": {"domain": [0, 13], "nice": false, "zero": false}, "axis": {"title": null, "values": [0,1,2,3,4,5,6,7,8,9,10,11,12,13], "labelExpr": "datum.value>=1 && datum.value<=12 ? ['Jan','Feb','Mar','Apr','May','Jun','Jul','Aug','Sep','Oct','Nov','Dec'][datum.value-1] : ''"}},
   "y": {"field": "y", "type": "quantitative", "scale": {"domain": [0, 7], "nice": false}, "axis": {"title": "Precipitation (mm day⁻¹)", "values": [0,0.5,1,1.5,2,2.5,3,3.5,4,4.5,5,5.5,6,6.5,7], "labelExpr": "datum.value % 1 == 0 ? format(datum.value, 'd') : ''", "tickSize": {"condition": {"test": "datum.value % 1 == 0", "value": 5}, "value": 3}}}},
 "layer": [
  {"data": {"name": "d"}, "transform": [{"filter": "datum.r=='EE' && datum.v=='pr' && datum.m==9 && datum.p=='Baseline'"}], "mark": {"type": "rect", "color": "#efefef"}, "encoding": {"x": {"datum": 9, "type": "quantitative"}, "x2": {"datum": 13}, "y": {"datum": 0, "type": "quantitative"}, "y2": {"datum": 7}}},
  {"data": {"name": "d"}, "transform": [{"filter": "datum.r=='EE' && datum.v=='pr'"}], "mark": {"type": "errorbar", "ticks": {"size": 5}}, "encoding": {"yError": {"field": "e"}, "color": {"field": "p", "type": "nominal", "scale": {"domain": ["Baseline", "Future"], "range": ["#999999", "#f4a0a0"]}, "legend": null}}},
  {"data": {"name": "d"}, "transform": [{"filter": "datum.r=='EE' && datum.v=='pr'"}], "mark": {"type": "line", "strokeWidth": 1}, "encoding": {"color": {"field": "p", "type": "nominal", "scale": {"domain": ["Baseline", "Future"], "range": ["#999999", "#f4a0a0"]}, "legend": null}}},
  {"data": {"name": "d"}, "transform": [{"filter": "datum.r=='EE' && datum.v=='pr'"}], "mark": {"type": "point", "opacity": 1, "size": 50, "strokeWidth": 1}, "encoding": {"shape": {"field": "p", "type": "nominal", "scale": {"domain": ["Baseline", "Future"], "range": ["square", "circle"]}, "legend": null}, "stroke": {"field": "p", "type": "nominal", "scale": {"domain": ["Baseline", "Future"], "range": ["#999999", "#f08c8c"]}, "legend": null}, "fill": {"field": "p", "type": "nominal", "scale": {"domain": ["Baseline", "Future"], "range": ["#cccccc", "#f9c8c8"]}, "legend": null}}},
  {"data": {"name": "d"}, "transform": [{"filter": "datum.r=='EE' && datum.v=='pr' && datum.m==1 && datum.p=='Baseline'"}], "mark": {"type": "rect", "fill": "#ffffff", "stroke": "#8c8c8c", "strokeWidth": 1.5}, "encoding": {"x": {"datum": 8.15, "type": "quantitative"}, "x2": {"datum": 13}, "y": {"datum": 6.3, "type": "quantitative"}, "y2": {"datum": 6.96}}},
  {"data": {"name": "d"}, "transform": [{"filter": "datum.r=='EE' && datum.v=='pr' && datum.m==1 && datum.p=='Baseline'"}], "encoding": {"y": {"datum": 6.76, "type": "quantitative"}}, "layer": [
    {"mark": {"type": "rule", "color": "#999999", "strokeWidth": 1}, "encoding": {"x": {"datum": 8.28, "type": "quantitative"}, "x2": {"datum": 9.1}}},
    {"mark": {"type": "point", "shape": "square", "filled": true, "fill": "#cccccc", "stroke": "#999999", "strokeWidth": 1, "size": 40, "opacity": 1}, "encoding": {"x": {"datum": 8.71, "type": "quantitative"}}},
    {"mark": {"type": "text", "text": "1990-2020 (Baseline)", "align": "left", "baseline": "middle", "fontSize": 8, "color": "#c0c0c0"}, "encoding": {"x": {"datum": 9.19, "type": "quantitative"}}}]},
  {"data": {"name": "d"}, "transform": [{"filter": "datum.r=='EE' && datum.v=='pr' && datum.m==1 && datum.p=='Future'"}], "encoding": {"y": {"datum": 6.47, "type": "quantitative"}}, "layer": [
    {"mark": {"type": "rule", "color": "#f4a0a0", "strokeWidth": 1}, "encoding": {"x": {"datum": 8.28, "type": "quantitative"}, "x2": {"datum": 9.1}}},
    {"mark": {"type": "point", "shape": "circle", "filled": true, "fill": "#f9c8c8", "stroke": "#f08c8c", "strokeWidth": 1, "size": 45, "opacity": 1}, "encoding": {"x": {"datum": 8.71, "type": "quantitative"}}},
    {"mark": {"type": "text", "text": "2050-2080 (Future)", "align": "left", "baseline": "middle", "fontSize": 8, "color": "#c0c0c0"}, "encoding": {"x": {"datum": 9.19, "type": "quantitative"}}}]}
 ]},
{"width": 299, "height": 276, "title": "North West England\u00a0\u00a0\u00a0\u00a0\u00a0\u00a0\u00a0\u00a0\u00a0\u00a0(a)",
 "encoding": {"x": {"field": "m", "type": "quantitative", "scale": {"domain": [0, 13], "nice": false, "zero": false}, "axis": {"title": null, "values": [0,1,2,3,4,5,6,7,8,9,10,11,12,13], "labelExpr": "datum.value>=1 && datum.value<=12 ? ['Jan','Feb','Mar','Apr','May','Jun','Jul','Aug','Sep','Oct','Nov','Dec'][datum.value-1] : ''"}},
   "y": {"field": "y", "type": "quantitative", "scale": {"domain": [0, 30], "nice": false}, "axis": {"title": "Max. Temperature(°C)", "values": [0,2.5,5,7.5,10,12.5,15,17.5,20,22.5,25,27.5,30], "labelExpr": "datum.value % 5 == 0 ? datum.label : ''", "tickSize": {"condition": {"test": "datum.value % 5 == 0", "value": 5}, "value": 3}}}},
 "layer": [
  {"data": {"name": "d"}, "transform": [{"filter": "datum.r=='NW' && datum.v=='max'"}], "mark": {"type": "errorbar", "ticks": {"size": 5}}, "encoding": {"yError": {"field": "e"}, "color": {"field": "p", "type": "nominal", "scale": {"domain": ["Baseline", "Future"], "range": ["#999999", "#f4a0a0"]}, "legend": null}}},
  {"data": {"name": "d"}, "transform": [{"filter": "datum.r=='NW' && datum.v=='max'"}], "mark": {"type": "line", "strokeWidth": 1}, "encoding": {"color": {"field": "p", "type": "nominal", "scale": {"domain": ["Baseline", "Future"], "range": ["#999999", "#f4a0a0"]}, "legend": null}}},
  {"data": {"name": "d"}, "transform": [{"filter": "datum.r=='NW' && datum.v=='max'"}], "mark": {"type": "point", "opacity": 1, "size": 50, "strokeWidth": 1}, "encoding": {"shape": {"field": "p", "type": "nominal", "scale": {"domain": ["Baseline", "Future"], "range": ["square", "circle"]}, "legend": null}, "stroke": {"field": "p", "type": "nominal", "scale": {"domain": ["Baseline", "Future"], "range": ["#999999", "#f08c8c"]}, "legend": null}, "fill": {"field": "p", "type": "nominal", "scale": {"domain": ["Baseline", "Future"], "range": ["#cccccc", "#f9c8c8"]}, "legend": null}}},
  {"data": {"name": "d"}, "transform": [{"filter": "datum.r=='NW' && datum.v=='max' && datum.m==1 && datum.p=='Baseline'"}], "mark": {"type": "rect", "fill": "#ffffff", "stroke": "#8c8c8c", "strokeWidth": 1.5}, "encoding": {"x": {"datum": 8.15, "type": "quantitative"}, "x2": {"datum": 12.95}, "y": {"datum": 27.07, "type": "quantitative"}, "y2": {"datum": 29.8}}},
  {"data": {"name": "d"}, "transform": [{"filter": "datum.r=='NW' && datum.v=='max' && datum.m==1 && datum.p=='Baseline'"}], "encoding": {"y": {"datum": 28.91, "type": "quantitative"}}, "layer": [
    {"mark": {"type": "rule", "color": "#999999", "strokeWidth": 1}, "encoding": {"x": {"datum": 8.28, "type": "quantitative"}, "x2": {"datum": 9.1}}},
    {"mark": {"type": "point", "shape": "square", "filled": true, "fill": "#cccccc", "stroke": "#999999", "strokeWidth": 1, "size": 40, "opacity": 1}, "encoding": {"x": {"datum": 8.71, "type": "quantitative"}}},
    {"mark": {"type": "text", "text": "1990-2020 (Baseline)", "align": "left", "baseline": "middle", "fontSize": 8, "color": "#c0c0c0"}, "encoding": {"x": {"datum": 9.19, "type": "quantitative"}}}]},
  {"data": {"name": "d"}, "transform": [{"filter": "datum.r=='NW' && datum.v=='max' && datum.m==1 && datum.p=='Future'"}], "encoding": {"y": {"datum": 27.72, "type": "quantitative"}}, "layer": [
    {"mark": {"type": "rule", "color": "#f4a0a0", "strokeWidth": 1}, "encoding": {"x": {"datum": 8.28, "type": "quantitative"}, "x2": {"datum": 9.1}}},
    {"mark": {"type": "point", "shape": "circle", "filled": true, "fill": "#f9c8c8", "stroke": "#f08c8c", "strokeWidth": 1, "size": 45, "opacity": 1}, "encoding": {"x": {"datum": 8.71, "type": "quantitative"}}},
    {"mark": {"type": "text", "text": "2050-2080 (Future)", "align": "left", "baseline": "middle", "fontSize": 8, "color": "#c0c0c0"}, "encoding": {"x": {"datum": 9.19, "type": "quantitative"}}}]}
 ]},
{"width": 295, "height": 276, "title": "North West England\u00a0\u00a0\u00a0\u00a0\u00a0\u00a0\u00a0\u00a0\u00a0\u00a0\u00a0(b)",
 "encoding": {"x": {"field": "m", "type": "quantitative", "scale": {"domain": [0, 13], "nice": false, "zero": false}, "axis": {"title": null, "values": [0,1,2,3,4,5,6,7,8,9,10,11,12,13], "labelExpr": "datum.value>=1 && datum.value<=12 ? ['Jan','Feb','Mar','Apr','May','Jun','Jul','Aug','Sep','Oct','Nov','Dec'][datum.value-1] : ''"}},
   "y": {"field": "y", "type": "quantitative", "scale": {"domain": [0, 30], "nice": false}, "axis": {"title": "Min. Temperature (°C)", "values": [0,2.5,5,7.5,10,12.5,15,17.5,20,22.5,25,27.5,30], "labelExpr": "datum.value % 5 == 0 ? datum.label : ''", "tickSize": {"condition": {"test": "datum.value % 5 == 0", "value": 5}, "value": 3}}}},
 "layer": [
  {"data": {"name": "d"}, "transform": [{"filter": "datum.r=='NW' && datum.v=='min'"}], "mark": {"type": "errorbar", "ticks": {"size": 5}}, "encoding": {"yError": {"field": "e"}, "color": {"field": "p", "type": "nominal", "scale": {"domain": ["Baseline", "Future"], "range": ["#999999", "#f4a0a0"]}, "legend": null}}},
  {"data": {"name": "d"}, "transform": [{"filter": "datum.r=='NW' && datum.v=='min'"}], "mark": {"type": "line", "strokeWidth": 1}, "encoding": {"color": {"field": "p", "type": "nominal", "scale": {"domain": ["Baseline", "Future"], "range": ["#999999", "#f4a0a0"]}, "legend": null}}},
  {"data": {"name": "d"}, "transform": [{"filter": "datum.r=='NW' && datum.v=='min'"}], "mark": {"type": "point", "opacity": 1, "size": 50, "strokeWidth": 1}, "encoding": {"shape": {"field": "p", "type": "nominal", "scale": {"domain": ["Baseline", "Future"], "range": ["square", "circle"]}, "legend": null}, "stroke": {"field": "p", "type": "nominal", "scale": {"domain": ["Baseline", "Future"], "range": ["#999999", "#f08c8c"]}, "legend": null}, "fill": {"field": "p", "type": "nominal", "scale": {"domain": ["Baseline", "Future"], "range": ["#cccccc", "#f9c8c8"]}, "legend": null}}},
  {"data": {"name": "d"}, "transform": [{"filter": "datum.r=='NW' && datum.v=='min' && datum.m==1 && datum.p=='Baseline'"}], "mark": {"type": "rect", "fill": "#ffffff", "stroke": "#8c8c8c", "strokeWidth": 1.5}, "encoding": {"x": {"datum": 8.35, "type": "quantitative"}, "x2": {"datum": 12.95}, "y": {"datum": 27.07, "type": "quantitative"}, "y2": {"datum": 29.8}}},
  {"data": {"name": "d"}, "transform": [{"filter": "datum.r=='NW' && datum.v=='min' && datum.m==1 && datum.p=='Baseline'"}], "encoding": {"y": {"datum": 28.91, "type": "quantitative"}}, "layer": [
    {"mark": {"type": "rule", "color": "#999999", "strokeWidth": 1}, "encoding": {"x": {"datum": 8.48, "type": "quantitative"}, "x2": {"datum": 9.3}}},
    {"mark": {"type": "point", "shape": "square", "filled": true, "fill": "#cccccc", "stroke": "#999999", "strokeWidth": 1, "size": 40, "opacity": 1}, "encoding": {"x": {"datum": 8.91, "type": "quantitative"}}},
    {"mark": {"type": "text", "text": "1990-2020 (Baseline)", "align": "left", "baseline": "middle", "fontSize": 8, "color": "#c0c0c0"}, "encoding": {"x": {"datum": 9.39, "type": "quantitative"}}}]},
  {"data": {"name": "d"}, "transform": [{"filter": "datum.r=='NW' && datum.v=='min' && datum.m==1 && datum.p=='Future'"}], "encoding": {"y": {"datum": 27.72, "type": "quantitative"}}, "layer": [
    {"mark": {"type": "rule", "color": "#f4a0a0", "strokeWidth": 1}, "encoding": {"x": {"datum": 8.48, "type": "quantitative"}, "x2": {"datum": 9.3}}},
    {"mark": {"type": "point", "shape": "circle", "filled": true, "fill": "#f9c8c8", "stroke": "#f08c8c", "strokeWidth": 1, "size": 45, "opacity": 1}, "encoding": {"x": {"datum": 8.91, "type": "quantitative"}}},
    {"mark": {"type": "text", "text": "2050-2080 (Future)", "align": "left", "baseline": "middle", "fontSize": 8, "color": "#c0c0c0"}, "encoding": {"x": {"datum": 9.39, "type": "quantitative"}}}]}
 ]},
{"width": 300, "height": 276, "title": "North West England\u00a0\u00a0\u00a0\u00a0\u00a0\u00a0\u00a0\u00a0\u00a0\u00a0(c)",
 "encoding": {"x": {"field": "m", "type": "quantitative", "scale": {"domain": [0, 13], "nice": false, "zero": false}, "axis": {"title": null, "values": [0,1,2,3,4,5,6,7,8,9,10,11,12,13], "labelExpr": "datum.value>=1 && datum.value<=12 ? ['Jan','Feb','Mar','Apr','May','Jun','Jul','Aug','Sep','Oct','Nov','Dec'][datum.value-1] : ''"}},
   "y": {"field": "y", "type": "quantitative", "scale": {"domain": [0, 7], "nice": false}, "axis": {"title": "Precipitation (mm day⁻¹)", "values": [0,0.5,1,1.5,2,2.5,3,3.5,4,4.5,5,5.5,6,6.5,7], "labelExpr": "datum.value % 1 == 0 ? format(datum.value, 'd') : ''", "tickSize": {"condition": {"test": "datum.value % 1 == 0", "value": 5}, "value": 3}}}},
 "layer": [
  {"data": {"name": "d"}, "transform": [{"filter": "datum.r=='NW' && datum.v=='pr' && datum.m==9 && datum.p=='Baseline'"}], "mark": {"type": "rect", "color": "#efefef"}, "encoding": {"x": {"datum": 9, "type": "quantitative"}, "x2": {"datum": 13}, "y": {"datum": 0, "type": "quantitative"}, "y2": {"datum": 7}}},
  {"data": {"name": "d"}, "transform": [{"filter": "datum.r=='NW' && datum.v=='pr'"}], "mark": {"type": "errorbar", "ticks": {"size": 5}}, "encoding": {"yError": {"field": "e"}, "color": {"field": "p", "type": "nominal", "scale": {"domain": ["Baseline", "Future"], "range": ["#999999", "#f4a0a0"]}, "legend": null}}},
  {"data": {"name": "d"}, "transform": [{"filter": "datum.r=='NW' && datum.v=='pr'"}], "mark": {"type": "line", "strokeWidth": 1}, "encoding": {"color": {"field": "p", "type": "nominal", "scale": {"domain": ["Baseline", "Future"], "range": ["#999999", "#f4a0a0"]}, "legend": null}}},
  {"data": {"name": "d"}, "transform": [{"filter": "datum.r=='NW' && datum.v=='pr'"}], "mark": {"type": "point", "opacity": 1, "size": 50, "strokeWidth": 1}, "encoding": {"shape": {"field": "p", "type": "nominal", "scale": {"domain": ["Baseline", "Future"], "range": ["square", "circle"]}, "legend": null}, "stroke": {"field": "p", "type": "nominal", "scale": {"domain": ["Baseline", "Future"], "range": ["#999999", "#f08c8c"]}, "legend": null}, "fill": {"field": "p", "type": "nominal", "scale": {"domain": ["Baseline", "Future"], "range": ["#cccccc", "#f9c8c8"]}, "legend": null}}},
  {"data": {"name": "d"}, "transform": [{"filter": "datum.r=='NW' && datum.v=='pr' && datum.m==1 && datum.p=='Baseline'"}], "mark": {"type": "rect", "fill": "#ffffff", "stroke": "#8c8c8c", "strokeWidth": 1.5}, "encoding": {"x": {"datum": 8.45, "type": "quantitative"}, "x2": {"datum": 13}, "y": {"datum": 6.3, "type": "quantitative"}, "y2": {"datum": 6.92}}},
  {"data": {"name": "d"}, "transform": [{"filter": "datum.r=='NW' && datum.v=='pr' && datum.m==1 && datum.p=='Baseline'"}], "encoding": {"y": {"datum": 6.74, "type": "quantitative"}}, "layer": [
    {"mark": {"type": "rule", "color": "#999999", "strokeWidth": 1}, "encoding": {"x": {"datum": 8.58, "type": "quantitative"}, "x2": {"datum": 9.4}}},
    {"mark": {"type": "point", "shape": "square", "filled": true, "fill": "#cccccc", "stroke": "#999999", "strokeWidth": 1, "size": 40, "opacity": 1}, "encoding": {"x": {"datum": 9.01, "type": "quantitative"}}},
    {"mark": {"type": "text", "text": "1990-2020 (Baseline)", "align": "left", "baseline": "middle", "fontSize": 8, "color": "#c0c0c0"}, "encoding": {"x": {"datum": 9.49, "type": "quantitative"}}}]},
  {"data": {"name": "d"}, "transform": [{"filter": "datum.r=='NW' && datum.v=='pr' && datum.m==1 && datum.p=='Future'"}], "encoding": {"y": {"datum": 6.46, "type": "quantitative"}}, "layer": [
    {"mark": {"type": "rule", "color": "#f4a0a0", "strokeWidth": 1}, "encoding": {"x": {"datum": 8.58, "type": "quantitative"}, "x2": {"datum": 9.4}}},
    {"mark": {"type": "point", "shape": "circle", "filled": true, "fill": "#f9c8c8", "stroke": "#f08c8c", "strokeWidth": 1, "size": 45, "opacity": 1}, "encoding": {"x": {"datum": 9.01, "type": "quantitative"}}},
    {"mark": {"type": "text", "text": "2050-2080 (Future)", "align": "left", "baseline": "middle", "fontSize": 8, "color": "#c0c0c0"}, "encoding": {"x": {"datum": 9.49, "type": "quantitative"}}}]}
 ]}
],
"config": {
 "font": "Liberation Sans",
 "view": {"stroke": "#999999", "strokeWidth": 1.5},
 "axis": {"domainColor": "#999999", "domainWidth": 1.5, "tickColor": "#999999", "tickWidth": 1, "labelColor": "#c2c2c2", "labelFontWeight": "bold", "labelFontSize": 10, "titleColor": "#c8c8c8", "titleFontWeight": "normal", "titleFontSize": 13, "grid": false, "labelPadding": 3, "titlePadding": 3, "tickSize": 5},
 "axisX": {"labelFlush": false, "labelOverlap": false},
 "title": {"color": "#c8c8c8", "fontSize": 12, "fontWeight": "normal", "anchor": "start", "frame": "group", "offset": 0, "dy": 26, "dx": 2}
}
}
